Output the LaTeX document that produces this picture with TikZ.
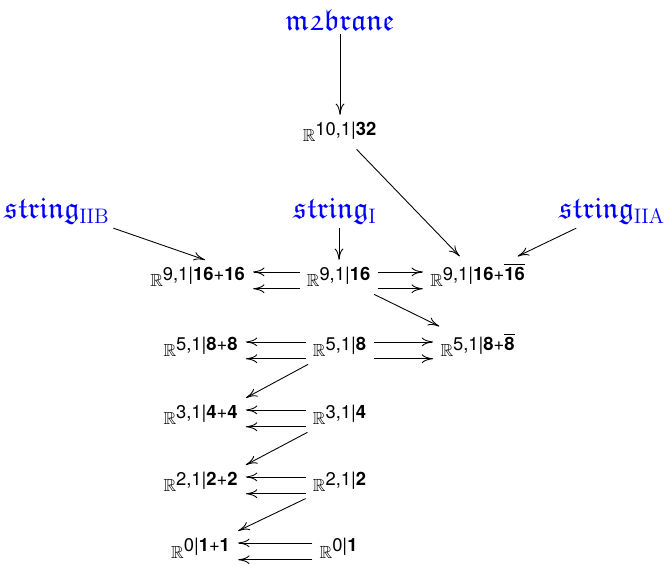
\documentclass[tikz,border=0pt]{standalone}
\usepackage{amssymb}
\usepackage{fontspec}
\setsansfont{TeX Gyre Heros}
\usetikzlibrary{arrows.meta}

% super-Minkowski space R^{p,q|N}, the exponent set in sans serif
\newcommand\Rsp[1]{$\mathbb{R}^{\mbox{\sffamily\fontsize{10.5}{12}\selectfont #1}}$}
\newcommand\bn[1]{\textbf{#1}}
\newcommand\bnbar[1]{$\overline{\mbox{\bfseries #1}}$}
\newcommand\frk[1]{$\mathfrak{#1}$}

\begin{document}
\begin{tikzpicture}[x=0.5714pt,y=-0.5714pt,
  sp/.style={anchor=base, inner sep=4pt},
  lab/.style={text=blue, font=\LARGE, inner sep=2pt},
  arr/.style={-{To[length=6.5pt,width=5pt]}, line width=0.5pt},
  hi/.style={yshift=8.6pt},
  lo/.style={yshift=-1pt}]
\useasboundingbox (0,0) rectangle (666,566);

% brane labels
\node[lab] (m2)   at (340,20)  {\frk{m2brane}};
\node[lab] (sIIB) at (57,211)  {\frk{string}$_{\mathrm{IIB}}$};
\node[lab] (sI)   at (335,211) {\frk{string}$_{\mathrm{I}}$};
\node[lab] (sIIA) at (612,211) {\frk{string}$_{\mathrm{IIA}}$};

% super-spacetimes
\node[sp] (r10) at (340,142) {\Rsp{10,1|\bn{32}}};

\node[sp] (l9) at (198,287) {\Rsp{9,1|\bn{16}+\bn{16}}};
\node[sp] (m9) at (339,287) {\Rsp{9,1|\bn{16}}};
\node[sp] (r9) at (478,287) {\Rsp{9,1|\bn{16}+\bnbar{16}}};

\node[sp] (l5) at (201,357) {\Rsp{5,1|\bn{8}+\bn{8}}};
\node[sp] (m5) at (340,357) {\Rsp{5,1|\bn{8}}};
\node[sp] (r5) at (478,357) {\Rsp{5,1|\bn{8}+\bnbar{8}}};

\node[sp] (l3) at (201,425) {\Rsp{3,1|\bn{4}+\bn{4}}};
\node[sp] (m3) at (340,425) {\Rsp{3,1|\bn{4}}};

\node[sp] (l2) at (201,492) {\Rsp{2,1|\bn{2}+\bn{2}}};
\node[sp] (m2s) at (340,492) {\Rsp{2,1|\bn{2}}};

\node[sp] (l0) at (201,558) {\Rsp{0|\bn{1}+\bn{1}}};
\node[sp] (m0) at (339,558) {\Rsp{0|\bn{1}}};

% label arrows
\draw[arr] (m2) -- (r10);
\draw[arr] (r10) -- (r9);
\draw[arr] (sIIB.south east) -- ([xshift=4pt]l9.north);
\draw[arr] (sI.south -| m9.north) -- (m9.north);
\draw[arr] (sIIA) -- (r9);

% pairs of parallel arrows, pointing left
\foreach \a/\b in {m9/l9, m5/l5, m3/l3, m2s/l2, m0/l0} {
  \draw[arr] ([hi]\a.base west) -- ([hi]\b.base east);
  \draw[arr] ([lo]\a.base west) -- ([lo]\b.base east);
}
% pairs of parallel arrows, pointing right
\foreach \a/\b in {m9/r9, m5/r5} {
  \draw[arr] ([hi]\a.base east) -- ([hi]\b.base west);
  \draw[arr] ([lo]\a.base east) -- ([lo]\b.base west);
}

% descending arrows
\draw[arr] (m9) -- (r5);
\draw[arr] (m5) -- (l3.north east);
\draw[arr] (m3) -- (l2.north east);
\draw[arr] (m2s) -- (l0.north east);
\end{tikzpicture}
\end{document}
